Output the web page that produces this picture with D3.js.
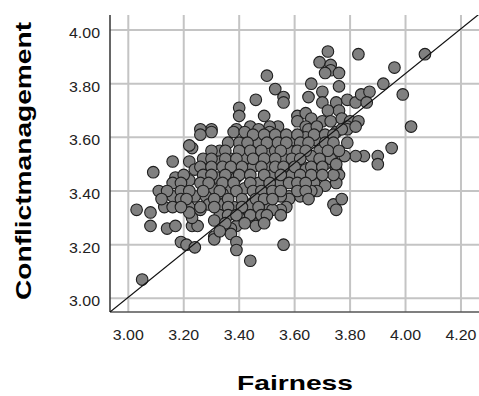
<!DOCTYPE html>
<html>
<head>
<meta charset="utf-8">
<script src="https://cdn.jsdelivr.net/npm/d3@7"></script>
<style>
  body { margin: 0; background: #fff; }
  text { font-family: Arial, "Liberation Sans", sans-serif; }
</style>
</head>
<body>
<div class="graph"></div>
<script>
// Fairness (x) vs Conflictmanagement (y)
const points = [
  [3.72,3.92],[3.83,3.91],[4.07,3.91],[3.69,3.88],[3.73,3.87],[3.73,3.85],[3.71,3.84],[3.76,3.84],[3.96,3.86],
  [3.50,3.83],[3.66,3.80],[3.76,3.79],[3.92,3.80],[3.99,3.76],[3.53,3.78],[3.56,3.75],[3.56,3.73],[3.65,3.75],
  [3.70,3.77],[3.70,3.73],[3.75,3.73],[3.79,3.74],[3.82,3.73],[3.84,3.76],[3.87,3.77],[3.86,3.73],[3.76,3.70],
  [3.72,3.70],[3.61,3.68],[3.64,3.69],[3.61,3.66],[3.66,3.67],[3.70,3.66],[3.73,3.66],[3.77,3.67],[3.80,3.66],
  [3.83,3.66],[4.02,3.64],[3.54,3.64],[3.64,3.64],[3.79,3.64],[3.46,3.74],[3.40,3.71],[3.40,3.68],[3.49,3.68],
  [3.30,3.63],[3.26,3.63],[3.39,3.63],[3.44,3.64],[3.51,3.64],[3.30,3.62],[3.26,3.61],[3.38,3.62],[3.42,3.62],
  [3.47,3.63],[3.51,3.62],[3.65,3.63],[3.68,3.64],[3.79,3.63],[3.82,3.64],[3.59,3.59],[3.55,3.58],[3.64,3.60],
  [3.68,3.59],[3.75,3.62],[3.77,3.63],[3.79,3.58],
  [3.40,3.58],[3.47,3.58],[3.51,3.60],[3.33,3.55],[3.37,3.52],[3.33,3.51],[3.42,3.52],[3.46,3.53],[3.51,3.54],
  [3.23,3.56],[3.22,3.57],[3.95,3.56],[3.90,3.53],[3.90,3.50],[3.85,3.53],[3.82,3.53],[3.78,3.53],[3.74,3.54],
  [3.73,3.57],[3.69,3.55],[3.66,3.53],[3.58,3.55],[3.53,3.55],[3.56,3.52],
  [3.16,3.51],[3.22,3.51],[3.09,3.47],[3.17,3.45],[3.22,3.44],[3.16,3.43],[3.24,3.48],[3.32,3.45],[3.39,3.45],
  [3.42,3.47],[3.45,3.49],[3.50,3.49],[3.52,3.46],[3.47,3.43],[3.59,3.46],[3.55,3.43],[3.71,3.50],[3.75,3.48],
  [3.76,3.46],[3.75,3.43],[3.71,3.42],[3.64,3.46],[3.68,3.48],[3.63,3.49],[3.73,3.52],[3.64,3.48],[3.67,3.43],
  [3.74,3.46],[3.75,3.50],
  [3.30,3.41],[3.37,3.41],[3.42,3.41],[3.11,3.40],[3.16,3.38],[3.24,3.38],[3.28,3.38],[3.34,3.39],[3.68,3.40],
  [3.58,3.38],[3.62,3.38],[3.66,3.40],[3.58,3.37],[3.55,3.38],[3.13,3.34],[3.22,3.34],[3.29,3.35],[3.34,3.35],
  [3.38,3.34],[3.44,3.35],[3.49,3.35],[3.74,3.35],[3.77,3.37],[3.57,3.34],[3.51,3.34],[3.55,3.33],
  [3.03,3.33],[3.08,3.32],[3.08,3.27],[3.14,3.26],[3.17,3.27],[3.23,3.27],[3.25,3.27],[3.23,3.30],[3.22,3.32],
  [3.26,3.33],[3.33,3.31],[3.43,3.30],[3.46,3.29],[3.46,3.27],[3.40,3.30],[3.44,3.31],[3.52,3.33],[3.55,3.31],
  [3.75,3.33],[3.31,3.29],[3.39,3.27],[3.37,3.26],
  [3.19,3.21],[3.21,3.20],[3.24,3.19],[3.31,3.23],[3.31,3.22],[3.37,3.24],[3.39,3.21],[3.39,3.18],[3.44,3.14],
  [3.56,3.20],[3.05,3.07],
  // dense middle of the cloud
  [3.45,3.61],[3.49,3.61],[3.53,3.61],[3.57,3.61],[3.61,3.61],[3.67,3.61],[3.71,3.61],[3.74,3.61],
  [3.36,3.58],[3.43,3.58],[3.50,3.58],[3.54,3.58],[3.57,3.58],[3.62,3.58],[3.65,3.58],[3.71,3.58],[3.74,3.58],
  [3.30,3.55],[3.35,3.55],[3.40,3.55],[3.44,3.55],[3.48,3.55],[3.55,3.55],[3.61,3.55],[3.64,3.55],[3.72,3.55],[3.76,3.55],
  [3.27,3.52],[3.30,3.52],[3.35,3.52],[3.39,3.52],[3.45,3.52],[3.49,3.52],[3.53,3.52],[3.59,3.52],[3.62,3.52],[3.69,3.52],
  [3.26,3.49],[3.30,3.49],[3.34,3.49],[3.37,3.49],[3.41,3.49],[3.48,3.49],[3.53,3.49],[3.56,3.49],[3.60,3.49],[3.66,3.49],[3.70,3.49],
  [3.20,3.46],[3.27,3.46],[3.30,3.46],[3.35,3.46],[3.40,3.46],[3.44,3.46],[3.49,3.46],[3.55,3.46],[3.62,3.46],[3.66,3.46],[3.70,3.46],
  [3.19,3.43],[3.26,3.43],[3.29,3.43],[3.34,3.43],[3.38,3.43],[3.44,3.43],[3.51,3.43],[3.58,3.43],[3.61,3.43],[3.64,3.43],
  [3.14,3.40],[3.19,3.40],[3.22,3.40],[3.27,3.40],[3.33,3.40],[3.39,3.40],[3.45,3.40],[3.48,3.40],[3.52,3.40],[3.55,3.40],[3.61,3.40],[3.64,3.40],
  [3.12,3.37],[3.19,3.37],[3.21,3.37],[3.31,3.37],[3.36,3.37],[3.41,3.37],[3.46,3.37],[3.49,3.37],[3.52,3.37],[3.65,3.37],
  [3.16,3.34],[3.19,3.34],[3.26,3.34],[3.31,3.34],[3.36,3.34],[3.41,3.34],[3.47,3.34],
  [3.36,3.31],[3.39,3.31],[3.48,3.31],[3.50,3.31],
  [3.35,3.28],[3.42,3.28],[3.49,3.28],[3.33,3.25]
];
const xTicks = [3.00, 3.20, 3.40, 3.60, 3.80, 4.00, 4.20];
const yTicks = [3.00, 3.20, 3.40, 3.60, 3.80, 4.00];
const fitLine = [0.502, 0.834]; // intercept, slope
const xTitle = "Fairness";
const yTitle = "Conflictmanagement";

const w = 479, h = 396;
const pLeft = 110, pRight = 479, pTop = 15, pBottom = 312;

const svg = d3.select(".graph").append("svg")
  .attr("width", w).attr("height", h)
  .style("display", "block");

const x = d3.scaleLinear().domain([2.934, 4.265]).range([pLeft, pRight]);
const y = d3.scaleLinear().domain([2.949, 4.056]).range([pBottom, pTop]);

// grid
svg.append("g").selectAll("line").data(xTicks).enter().append("line")
  .attr("x1", d => x(d)).attr("x2", d => x(d))
  .attr("y1", pTop).attr("y2", pBottom)
  .attr("stroke", "#c4c4c4").attr("stroke-width", 2);
svg.append("g").selectAll("line").data(yTicks).enter().append("line")
  .attr("x1", pLeft).attr("x2", pRight)
  .attr("y1", d => y(d)).attr("y2", d => y(d))
  .attr("stroke", "#c4c4c4").attr("stroke-width", 2);

// axis lines
svg.append("line").attr("x1", pLeft).attr("x2", pLeft).attr("y1", pTop).attr("y2", pBottom)
  .attr("stroke", "#333").attr("stroke-width", 1.5);
svg.append("line").attr("x1", pLeft).attr("x2", pRight).attr("y1", pBottom).attr("y2", pBottom)
  .attr("stroke", "#555").attr("stroke-width", 1.5);

// tick labels
svg.append("g").selectAll("text").data(yTicks).enter().append("text")
  .attr("x", 100).attr("y", d => y(d) + 8)
  .attr("text-anchor", "end").attr("font-size", 14).attr("fill", "#222")
  .attr("textLength", 31).attr("lengthAdjust", "spacingAndGlyphs")
  .text(d => d.toFixed(2));
svg.append("g").selectAll("text").data(xTicks).enter().append("text")
  .attr("x", d => x(d)).attr("y", 340)
  .attr("text-anchor", "middle").attr("font-size", 14).attr("fill", "#222")
  .attr("textLength", 31).attr("lengthAdjust", "spacingAndGlyphs")
  .text(d => d.toFixed(2));

// points
svg.append("defs").append("clipPath").attr("id", "plot")
  .append("rect").attr("x", pLeft).attr("y", pTop).attr("width", pRight - pLeft).attr("height", pBottom - pTop);

svg.append("g").selectAll("circle").data(points).enter().append("circle")
  .attr("cx", d => x(d[0])).attr("cy", d => y(d[1])).attr("r", 5.8)
  .attr("fill", "#808080").attr("stroke", "#1e1e1e").attr("stroke-width", 1.1);

// fit line
const xd = x.domain();
svg.append("line").attr("clip-path", "url(#plot)")
  .attr("x1", x(xd[0])).attr("y1", y(fitLine[0] + fitLine[1] * xd[0]))
  .attr("x2", x(xd[1])).attr("y2", y(fitLine[0] + fitLine[1] * xd[1]))
  .attr("stroke", "#111").attr("stroke-width", 1.2);

// titles
svg.append("text").attr("x", 295).attr("y", 390)
  .attr("text-anchor", "middle").attr("font-size", 21).attr("font-weight", "bold")
  .attr("textLength", 116).attr("lengthAdjust", "spacingAndGlyphs")
  .text(xTitle);
svg.append("text").attr("transform", "translate(31,161) rotate(-90)")
  .attr("text-anchor", "middle").attr("font-size", 22).attr("font-weight", "bold")
  .attr("textLength", 278).attr("lengthAdjust", "spacingAndGlyphs")
  .text(yTitle);
</script>
</body>
</html>
